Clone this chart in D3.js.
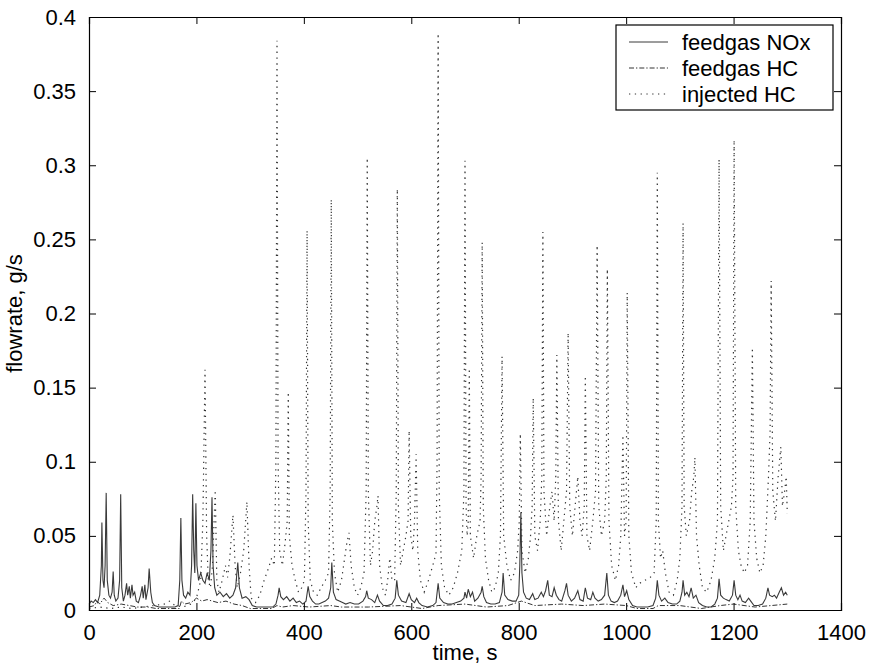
<!DOCTYPE html>
<html>
<head>
<meta charset="utf-8">
<script src="https://cdn.jsdelivr.net/npm/d3@7"></script>
<style>
  body { margin: 0; background: #fff; }
  text { font-family: "Liberation Sans", Arial, Helvetica, sans-serif; fill: #000; }
</style>
</head>
<body>
<div id="chart"></div>
<script>

// axis ticks
var xTicks = [0, 200, 400, 600, 800, 1000, 1200, 1400];
var yTicks = [0, 0.05, 0.1, 0.15, 0.2, 0.25, 0.3, 0.35, 0.4];
var yTickLabels = ["0", "0.05", "0.1", "0.15", "0.2", "0.25", "0.3", "0.35", "0.4"];

var seriesNames = ["feedgas NOx", "feedgas HC", "injected HC"];

// feedgas NOx [time s, flowrate g/s]
var noxData = [[0,0.004],[4,0.006],[8,0.005],[12,0.007],[16,0.005],[20,0.01],[23,0.03],[24,0.059],[26,0.02],[28,0.015],
  [30,0.03],[32,0.079],[34,0.02],[37,0.01],[40,0.008],[43,0.012],[45,0.026],[47,0.01],[50,0.006],[54,0.008],
  [57,0.02],[59,0.078],[61,0.015],[64,0.006],[67,0.01],[70,0.018],[72,0.01],[75,0.016],[77,0.008],[80,0.017],
  [82,0.01],[85,0.012],[88,0.006],[92,0.005],[96,0.01],[99,0.016],[101,0.008],[104,0.017],[106,0.007],[110,0.015],
  [112,0.028],[115,0.012],[118,0.005],[122,0.003],[130,0.002],[140,0.002],[150,0.002],[160,0.002],[166,0.003],[169,0.02],
  [171,0.062],[173,0.02],[176,0.01],[180,0.008],[184,0.012],[188,0.01],[191,0.03],[193,0.078],[195,0.04],[197,0.025],
  [199,0.072],[201,0.03],[204,0.02],[208,0.025],[212,0.02],[216,0.018],[220,0.025],[224,0.02],[227,0.04],[229,0.076],
  [231,0.03],[234,0.015],[238,0.01],[244,0.012],[250,0.009],[256,0.011],[262,0.008],[268,0.01],[273,0.015],[277,0.032],
  [280,0.015],[285,0.008],[292,0.009],[298,0.007],[304,0.003],[312,0.002],[322,0.002],[332,0.002],[342,0.002],[348,0.004],
  [352,0.01],[354,0.015],[357,0.009],[362,0.007],[368,0.009],[374,0.006],[380,0.008],[386,0.005],[392,0.006],[398,0.004],
  [404,0.006],[408,0.016],[411,0.009],[416,0.006],[422,0.004],[428,0.004],[434,0.005],[440,0.006],[446,0.008],[450,0.015],
  [452,0.032],[455,0.012],[460,0.007],[466,0.006],[472,0.005],[478,0.004],[486,0.005],[494,0.004],[502,0.004],[510,0.006],
  [515,0.009],[517,0.013],[520,0.008],[526,0.007],[532,0.005],[537,0.01],[541,0.006],[548,0.003],[556,0.003],[564,0.004],
  [570,0.008],[573,0.02],[576,0.01],[582,0.006],[590,0.005],[596,0.011],[600,0.007],[606,0.005],[610,0.008],[614,0.005],
  [620,0.003],[630,0.002],[640,0.003],[646,0.005],[650,0.018],[653,0.008],[660,0.005],[668,0.004],[676,0.004],[684,0.005],
  [692,0.006],[698,0.008],[700,0.012],[703,0.008],[706,0.014],[710,0.009],[714,0.012],[718,0.006],[724,0.008],[730,0.012],
  [732,0.016],[735,0.009],[740,0.005],[748,0.004],[756,0.004],[764,0.005],[769,0.012],[771,0.025],[774,0.01],[780,0.007],
  [788,0.006],[795,0.006],[800,0.01],[802,0.03],[804,0.066],[806,0.025],[809,0.012],[814,0.008],[820,0.007],[826,0.011],
  [830,0.007],[836,0.008],[842,0.012],[846,0.009],[850,0.013],[854,0.02],[857,0.01],[862,0.009],[866,0.015],[870,0.01],
  [875,0.007],[880,0.006],[886,0.013],[889,0.018],[892,0.01],[898,0.006],[904,0.008],[910,0.013],[914,0.007],[920,0.006],
  [924,0.015],[928,0.008],[934,0.007],[938,0.012],[942,0.008],[948,0.006],[954,0.007],[960,0.01],[964,0.025],[967,0.01],
  [972,0.006],[978,0.005],[984,0.006],[990,0.01],[994,0.017],[997,0.009],[1001,0.013],[1005,0.007],[1012,0.003],[1020,0.002],
  [1030,0.002],[1040,0.002],[1050,0.003],[1055,0.008],[1058,0.02],[1061,0.01],[1066,0.006],[1072,0.008],[1078,0.005],[1086,0.004],
  [1094,0.004],[1100,0.006],[1104,0.012],[1106,0.02],[1109,0.01],[1113,0.012],[1117,0.009],[1121,0.015],[1125,0.008],[1130,0.01],
  [1135,0.005],[1142,0.003],[1150,0.002],[1158,0.002],[1165,0.004],[1170,0.008],[1173,0.021],[1176,0.01],[1181,0.008],[1186,0.007],
  [1192,0.006],[1198,0.01],[1201,0.02],[1204,0.01],[1208,0.007],[1212,0.01],[1216,0.006],[1222,0.005],[1228,0.008],[1232,0.006],
  [1238,0.003],[1246,0.003],[1254,0.004],[1260,0.008],[1264,0.015],[1267,0.01],[1272,0.009],[1276,0.01],[1280,0.008],[1285,0.012],
  [1289,0.015],[1293,0.01],[1297,0.012],[1300,0.01]];

// feedgas HC [time s, flowrate g/s]
var feedHcData = [[0,0.002],[10,0.003],[15,0.006],[20,0.004],[28,0.008],[35,0.005],[45,0.003],[60,0.004],[75,0.003],[90,0.002],
  [110,0.002],[125,0.001],[150,0.001],[168,0.001],[172,0.006],[178,0.004],[190,0.005],[200,0.008],[210,0.006],[220,0.007],
  [230,0.006],[240,0.005],[255,0.006],[270,0.004],[285,0.003],[300,0.001],[340,0.001],[350,0.003],[360,0.002],[380,0.003],
  [410,0.002],[450,0.003],[470,0.002],[520,0.002],[580,0.003],[620,0.001],[650,0.003],[700,0.004],[740,0.002],[780,0.003],
  [805,0.006],[830,0.003],[880,0.004],[920,0.003],[960,0.004],[1000,0.003],[1020,0.001],[1050,0.001],[1060,0.003],[1100,0.003],
  [1140,0.001],[1175,0.003],[1200,0.004],[1240,0.002],[1270,0.003],[1300,0.004]];

// injected HC [time s, flowrate g/s]
var injHcData = [[0,0.001],[20,0.002],[40,0.001],[60,0.002],[80,0.001],[100,0.002],[120,0.003],[140,0.004],[150,0.006],[160,0.003],
  [175,0.002],[190,0.004],[200,0.008],[208,0.02],[212,0.06],[216,0.162],[219,0.05],[222,0.02],[226,0.015],[230,0.03],
  [235,0.081],[238,0.02],[242,0.012],[248,0.02],[254,0.03],[258,0.022],[262,0.035],[268,0.064],[272,0.03],[276,0.015],
  [282,0.025],[288,0.04],[294,0.073],[298,0.03],[302,0.008],[310,0.005],[318,0.01],[326,0.02],[334,0.028],[340,0.035],
  [345,0.03],[348,0.1],[350,0.384],[352,0.1],[355,0.04],[360,0.03],[365,0.045],[369,0.06],[371,0.147],[373,0.05],
  [378,0.03],[384,0.02],[390,0.012],[396,0.015],[401,0.02],[404,0.08],[406,0.256],[408,0.06],[412,0.02],[418,0.012],
  [425,0.01],[432,0.015],[440,0.02],[446,0.025],[449,0.08],[451,0.277],[453,0.06],[457,0.025],[463,0.012],[470,0.02],
  [476,0.035],[480,0.045],[484,0.052],[488,0.03],[494,0.015],[500,0.01],[506,0.015],[512,0.025],[516,0.08],[518,0.305],
  [520,0.08],[524,0.03],[528,0.04],[532,0.06],[536,0.07],[538,0.077],[541,0.03],[546,0.015],[552,0.01],[556,0.02],
  [560,0.035],[564,0.02],[569,0.02],[572,0.08],[574,0.284],[576,0.07],[580,0.03],[585,0.04],[590,0.05],[594,0.06],
  [596,0.121],[599,0.05],[603,0.04],[606,0.06],[609,0.105],[612,0.04],[617,0.02],[624,0.012],[632,0.02],[640,0.03],
  [646,0.038],[648,0.1],[650,0.389],[652,0.08],[656,0.03],[662,0.015],[670,0.01],[678,0.015],[686,0.025],[694,0.04],
  [698,0.08],[700,0.303],[702,0.07],[704,0.05],[706,0.06],[708,0.163],[710,0.05],[716,0.035],[722,0.05],[728,0.06],
  [730,0.09],[732,0.248],[734,0.07],[738,0.035],[744,0.02],[750,0.012],[756,0.015],[762,0.025],[766,0.05],[769,0.171],
  [772,0.05],[778,0.03],[785,0.02],[792,0.025],[798,0.04],[801,0.06],[803,0.119],[806,0.04],[812,0.025],[818,0.035],
  [822,0.05],[825,0.07],[827,0.143],[830,0.05],[835,0.04],[840,0.06],[843,0.09],[845,0.255],[847,0.08],[852,0.05],
  [858,0.07],[862,0.08],[866,0.06],[869,0.09],[871,0.172],[874,0.06],[879,0.04],[884,0.06],[889,0.08],[892,0.187],
  [895,0.07],[900,0.05],[905,0.07],[910,0.09],[914,0.06],[918,0.05],[922,0.07],[924,0.158],[927,0.05],[932,0.04],
  [938,0.06],[943,0.08],[946,0.246],[949,0.07],[954,0.05],[960,0.06],[963,0.09],[965,0.23],[968,0.06],[973,0.03],
  [980,0.02],[986,0.03],[990,0.05],[994,0.118],[997,0.05],[1000,0.06],[1002,0.214],[1005,0.05],[1010,0.025],[1018,0.015],
  [1025,0.018],[1035,0.02],[1045,0.022],[1052,0.025],[1056,0.06],[1058,0.295],[1060,0.06],[1064,0.035],[1068,0.04],[1073,0.025],
  [1080,0.012],[1088,0.01],[1095,0.02],[1100,0.035],[1104,0.07],[1106,0.261],[1108,0.07],[1112,0.05],[1118,0.06],[1122,0.08],
  [1126,0.09],[1128,0.103],[1131,0.05],[1136,0.03],[1142,0.015],[1150,0.012],[1158,0.02],[1165,0.035],[1170,0.06],[1173,0.304],
  [1176,0.07],[1181,0.04],[1186,0.05],[1191,0.06],[1196,0.07],[1199,0.09],[1201,0.317],[1204,0.07],[1209,0.04],[1214,0.03],
  [1220,0.025],[1226,0.03],[1231,0.06],[1235,0.177],[1238,0.06],[1243,0.035],[1249,0.025],[1255,0.03],[1260,0.05],[1265,0.09],
  [1268,0.12],[1270,0.222],[1273,0.08],[1278,0.06],[1283,0.09],[1288,0.11],[1291,0.07],[1295,0.08],[1298,0.09],[1300,0.065]];

// set the dimensions and margins of the graph
var margin = { top: 17, right: 30, bottom: 59, left: 89 },
    width = 871 - margin.left - margin.right,
    height = 669 - margin.top - margin.bottom;

var svg = d3.select("#chart")
    .append("svg")
    .attr("width", 871)
    .attr("height", 669)
    .append("g")
    .attr("transform", "translate(" + margin.left + "," + margin.top + ")");

var x = d3.scaleLinear().domain([0, 1400]).range([0, width]);
var y = d3.scaleLinear().domain([0, 0.4]).range([height, 0]);

svg.append("clipPath").attr("id", "plotclip")
    .append("rect").attr("width", width).attr("height", height);

var line = d3.line()
    .x(function(d){ return x(d[0]); })
    .y(function(d){ return y(d[1]); });

var styles = [
    { data: noxData, color: "#3a3a3a", w: 1.1, dash: null },
    { data: feedHcData, color: "#333", w: 1, dash: "5,2,1.3,2" },
    { data: injHcData, color: "#333", w: 1.2, dash: "1.3,4.5" }
];

var plot = svg.append("g").attr("clip-path", "url(#plotclip)");

// draw injected first so the solid line sits on top
[2, 1, 0].forEach(function(i){
    var s = styles[i];
    plot.append("path")
        .datum(s.data)
        .attr("fill", "none")
        .attr("stroke", s.color)
        .attr("stroke-width", s.w)
        .attr("stroke-dasharray", s.dash)
        .attr("d", line);
});

// axes, ticks pointing inwards on all four sides
var fontSize = "22px";
var xAxisBottom = svg.append("g").attr("transform", "translate(0," + height + ")")
    .call(d3.axisBottom(x).tickValues(xTicks).tickSize(-7).tickPadding(14).tickFormat(d3.format("d")));
var yAxisLeft = svg.append("g")
    .call(d3.axisLeft(y).tickValues(yTicks).tickSize(-7).tickPadding(13)
        .tickFormat(function(d, i){ return yTickLabels[i]; }));
var xAxisTop = svg.append("g")
    .call(d3.axisTop(x).tickValues(xTicks).tickSize(-7).tickFormat(""));
var yAxisRight = svg.append("g").attr("transform", "translate(" + width + ",0)")
    .call(d3.axisRight(y).tickValues(yTicks).tickSize(-7).tickFormat(""));

[xAxisBottom, yAxisLeft, xAxisTop, yAxisRight].forEach(function(g){
    g.select(".domain").attr("stroke", "#000").attr("stroke-width", 1.2);
    g.selectAll(".tick line").attr("stroke", "#000").attr("stroke-width", 1);
    g.selectAll("text").style("font-size", fontSize)
        .style("font-family", "'Liberation Sans', Arial, sans-serif").attr("fill", "#000");
});

// axis labels
svg.append("text")
    .attr("x", width / 2)
    .attr("y", height + 50)
    .attr("text-anchor", "middle")
    .style("font-size", "22px")
    .text("time, s");

svg.append("text")
    .attr("transform", "translate(" + (-67) + "," + (height / 2) + ") rotate(-90)")
    .attr("text-anchor", "middle")
    .style("font-size", "22px")
    .text("flowrate, g/s");

// legend
var legend = svg.append("g").attr("transform", "translate(" + (616 - margin.left) + "," + (25 - margin.top) + ")");
legend.append("rect")
    .attr("width", 217).attr("height", 85)
    .attr("fill", "#fff").attr("stroke", "#000").attr("stroke-width", 1.2);

seriesNames.forEach(function(name, i){
    var s = styles[i];
    var ly = 17 + i * 26;
    legend.append("line")
        .attr("x1", 13).attr("x2", 52)
        .attr("y1", ly).attr("y2", ly)
        .attr("stroke", s.color)
        .attr("stroke-width", 1)
        .attr("stroke-dasharray", s.dash);
    legend.append("text")
        .attr("x", 66).attr("y", ly + 8)
        .style("font-size", "22px")
        .text(name);
});

</script>
</body>
</html>
